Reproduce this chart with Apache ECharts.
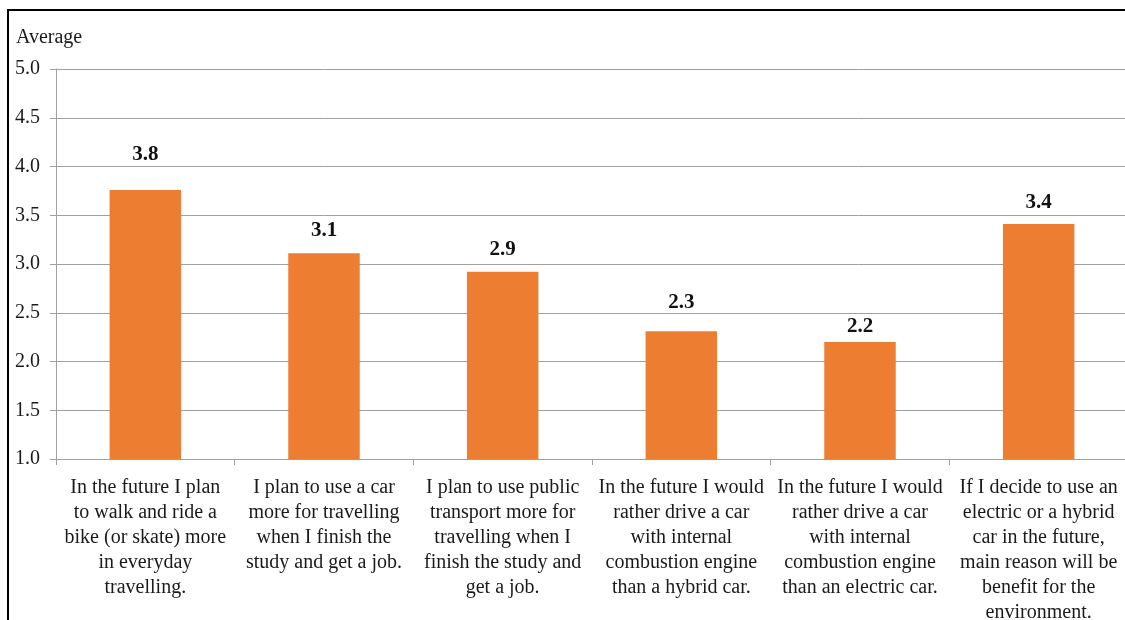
<!DOCTYPE html>
<html>
<head>
<meta charset="utf-8">
<script src="https://cdn.jsdelivr.net/npm/echarts@6/dist/echarts.min.js"></script>
<style>
  html, body { margin: 0; padding: 0; background: #fff; overflow: hidden; }
  #chart { width: 1125px; height: 620px; }
</style>
</head>
<body>
<div id="chart"></div>
<script>
// Survey statements (category axis), with the line breaks used under each bar
const categories = [
  'In the future I plan\nto walk and ride a\nbike (or skate) more\nin everyday\ntravelling.',
  'I plan to use a car\nmore for travelling\nwhen I finish the\nstudy and get a job.',
  'I plan to use public\ntransport more for\ntravelling when I\nfinish the study and\nget a job.',
  'In the future I would\nrather drive a car\nwith internal\ncombustion engine\nthan a hybrid car.',
  'In the future I would\nrather drive a car\nwith internal\ncombustion engine\nthan an electric car.',
  'If I decide to use an\nelectric or a hybrid\ncar in the future,\nmain reason will be\nbenefit for the\nenvironment.'
];

// Average agreement score per statement
const averages = [3.76, 3.11, 2.92, 2.31, 2.2, 3.41];

// Value axis range and step
const yMin = 1.0;
const yMax = 5.0;
const yStep = 0.5;

// Gap between each bar top and its value label
const labelGap = [25, 12, 12, 18, 5, 11];

const serif = '"Liberation Serif", "Times New Roman", "DejaVu Serif", serif';
const axisGrey = '#a0a0a0';

const chart = echarts.init(document.getElementById('chart'), null, { renderer: 'canvas' });

chart.setOption({
  animation: false,
  backgroundColor: '#ffffff',
  textStyle: { fontFamily: serif },
  title: {
    text: 'Average',
    left: 16,
    top: 28,
    padding: 0,
    textStyle: { fontFamily: serif, fontSize: 20, fontWeight: 'normal', color: '#1a1a1a' }
  },
  graphic: [{
    type: 'rect',
    z: -1,
    silent: true,
    shape: { x: 8, y: 10, width: 1300, height: 800 },
    style: { fill: 'none', stroke: '#000', lineWidth: 2 }
  }],
  grid: {
    left: 56, right: -3, top: 69, bottom: 161,
    containLabel: false,
    outerBoundsMode: 'none'
  },
  xAxis: {
    type: 'category',
    data: categories,
    axisLine: { show: true, lineStyle: { color: axisGrey, width: 1 } },
    axisTick: { show: true, length: 6, alignWithLabel: false, lineStyle: { color: axisGrey } },
    axisLabel: {
      interval: 0,
      margin: 16,
      fontFamily: serif,
      fontSize: 20,
      lineHeight: 25,
      color: '#1a1a1a',
      align: 'center'
    }
  },
  yAxis: {
    type: 'value',
    min: yMin,
    max: yMax,
    interval: yStep,
    axisLine: { show: true, lineStyle: { color: axisGrey, width: 1 } },
    axisTick: { show: true, length: 6, lineStyle: { color: axisGrey } },
    splitLine: { show: true, lineStyle: { color: axisGrey, width: 1 } },
    axisLabel: {
      margin: 16,
      fontFamily: serif,
      fontSize: 20,
      color: '#1a1a1a',
      formatter: v => v.toFixed(1)
    }
  },
  series: [{
    type: 'bar',
    barWidth: '40%',
    itemStyle: { color: '#ED7D31' },
    data: averages.map((v, i) => ({
      value: v,
      label: { distance: labelGap[i] }
    })),
    label: {
      show: true,
      position: 'top',
      fontFamily: serif,
      fontSize: 21,
      fontWeight: 'bold',
      color: '#111',
      formatter: p => p.value.toFixed(1)
    }
  }]
});
</script>
</body>
</html>
